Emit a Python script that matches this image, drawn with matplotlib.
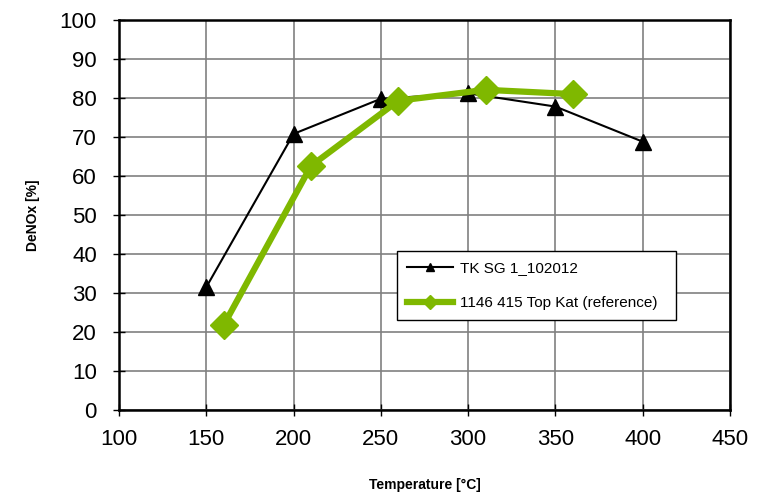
import matplotlib
matplotlib.use("Agg")
import matplotlib.pyplot as plt

plt.rcParams['font.family'] = ['Liberation Sans', 'DejaVu Sans']

temp_black = [150, 200, 250, 300, 350, 400]
denox_black = [31.5, 70.8, 79.8, 81.2, 77.8, 68.8]
temp_green = [160, 210, 260, 310, 360]
denox_green = [21.8, 62.6, 79.3, 82.1, 81.0]
label_black = "TK SG 1_102012"
label_green = "1146 415 Top Kat (reference)"

fig = plt.figure(figsize=(7.67, 4.92), dpi=100)
ax = fig.add_axes([119/767, 1 - 410/492, (730-119)/767, (410-20)/492])

ax.plot(temp_black, denox_black, color='black', lw=1.5, marker='^', markersize=12,
        label=label_black, zorder=3)
ax.plot(temp_green, denox_green, color='#7fb800', lw=4.5, marker='D', markersize=14,
        label=label_green, zorder=4)

ax.set_xlim(100, 450)
ax.set_ylim(0, 100)
ax.set_xticks(range(100, 451, 50))
ax.set_yticks(range(0, 101, 10))
ax.grid(True, color='#808080', lw=1.2)
ax.set_axisbelow(True)
for s in ax.spines.values():
    s.set_linewidth(1.8)
    s.set_color('black')
ax.tick_params(direction='inout', length=8, width=1, labelsize=16)
ax.tick_params(axis='x', pad=10)
ax.tick_params(axis='y', pad=12)

ax.set_xlabel("Temperature [°C]", fontsize=10, fontweight='bold', labelpad=20)
ax.set_ylabel("DeNOx [%]", fontsize=10, fontweight='bold', labelpad=14)

leg = ax.legend(loc='lower left', bbox_to_anchor=(0.455, 0.231, 0.457, 0.179), mode='expand',
                fancybox=False, shadow=False, framealpha=1, edgecolor='black',
                fontsize=11, markerscale=0.5, borderaxespad=0, labelspacing=1.35,
                borderpad=0.65, handlelength=3.0, handletextpad=0.5)
leg.get_frame().set_linewidth(1.0)

fig.savefig("out.png", dpi=100)
